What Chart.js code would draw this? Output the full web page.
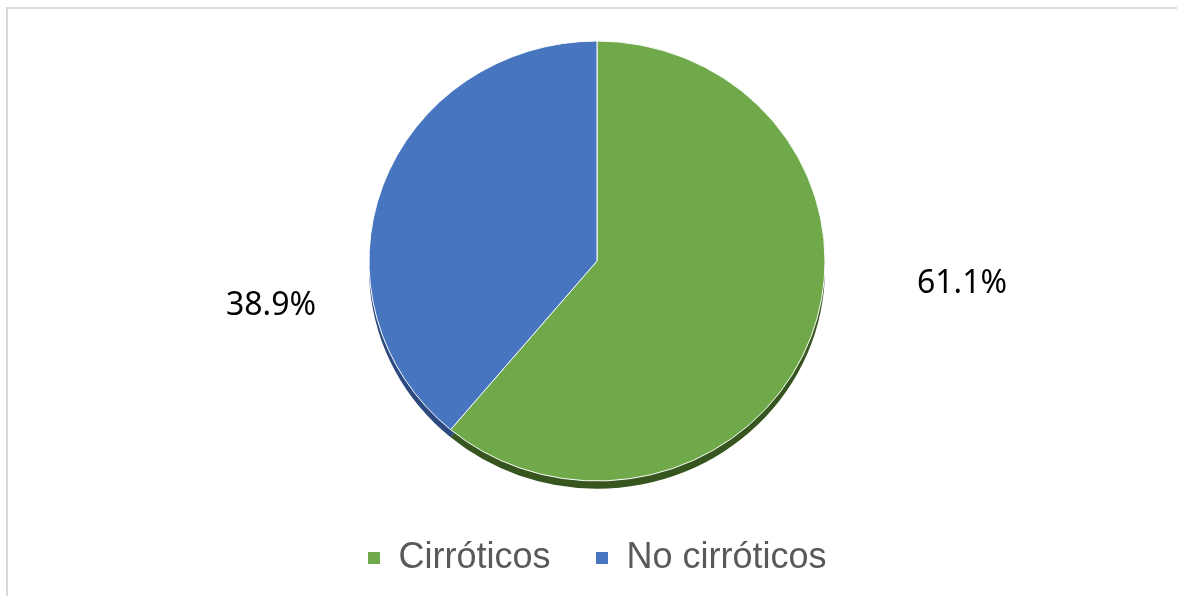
<!DOCTYPE html>
<html>
<head>
<meta charset="utf-8">
<script src="https://cdn.jsdelivr.net/npm/chart.js@4/dist/chart.umd.min.js"></script>
<style>
  html, body { margin: 0; padding: 0; background: #fff; overflow: hidden; }
  #frame { position: absolute; left: 6px; top: 7px; width: 1200px; height: 700px; border: 2px solid #d9d9d9; box-sizing: border-box; }
  #wrap { position: absolute; left: 0; top: 0; width: 1177px; height: 596px; }
</style>
</head>
<body>
<div id="frame"></div>
<div id="wrap"><canvas id="pieChart" width="1177" height="596"></canvas></div>
<script>
// Pacientes: cirróticos vs no cirróticos (porcentaje)
const categories = ['Cirróticos', 'No cirróticos'];
const shares = [61.1, 38.9];
const faceColors = ['#6fa94a', '#4875bf'];
const rimColors = ['#37561f', '#2c4a80'];

// label placement relative to the pie centre
const labelNudge = [[365, 23], [-326, 45]];
const tilt = 220 / 228;
const depth = 8;

// slight 3D look: squash the disc vertically and draw a darker rim under it
const tiltedPie = {
    id: 'tiltedPie',
    beforeDatasetsDraw(chart) {
        const arcs = chart.getDatasetMeta(0).data;
        const { x, y } = arcs[0];
        const ctx = chart.ctx;
        ctx.save();
        ctx.translate(x, y);
        ctx.scale(1, tilt);
        ctx.translate(-x, -y);
        arcs.forEach((a, i) => {
            ctx.beginPath();
            ctx.moveTo(x, y + depth);
            ctx.arc(x, y + depth, a.outerRadius, a.startAngle, a.endAngle);
            ctx.closePath();
            ctx.fillStyle = rimColors[i];
            ctx.fill();
        });
    },
    afterDatasetsDraw(chart) {
        chart.ctx.restore();
    }
};

const pctLabels = {
    id: 'pctLabels',
    afterDraw(chart) {
        const arcs = chart.getDatasetMeta(0).data;
        const ctx = chart.ctx;
        ctx.save();
        ctx.font = '32px "Noto Sans"';
        ctx.fillStyle = '#000';
        ctx.textAlign = 'center';
        ctx.textBaseline = 'middle';
        shares.forEach((v, i) => {
            ctx.fillText(v.toFixed(1) + '%', arcs[i].x + labelNudge[i][0], arcs[i].y + labelNudge[i][1]);
        });
        ctx.restore();
    }
};

const ctx = document.getElementById('pieChart').getContext('2d');
new Chart(ctx, {
    type: 'pie',
    data: {
        labels: categories,
        datasets: [{
            data: shares,
            backgroundColor: faceColors,
            borderColor: '#ffffff',
            borderWidth: 1,
            radius: 228
        }]
    },
    options: {
        responsive: false,
        animation: false,
        layout: { padding: { top: 27, bottom: 10, left: 17, right: 0 } },
        plugins: {
            tooltip: { enabled: false },
            legend: {
                position: 'bottom',
                labels: {
                    boxWidth: 13,
                    boxHeight: 13,
                    padding: 45,
                    color: '#595959',
                    font: { family: '"Liberation Sans", Arial, sans-serif', size: 36 }
                }
            }
        }
    },
    plugins: [tiltedPie, pctLabels]
});
</script>
</body>
</html>
